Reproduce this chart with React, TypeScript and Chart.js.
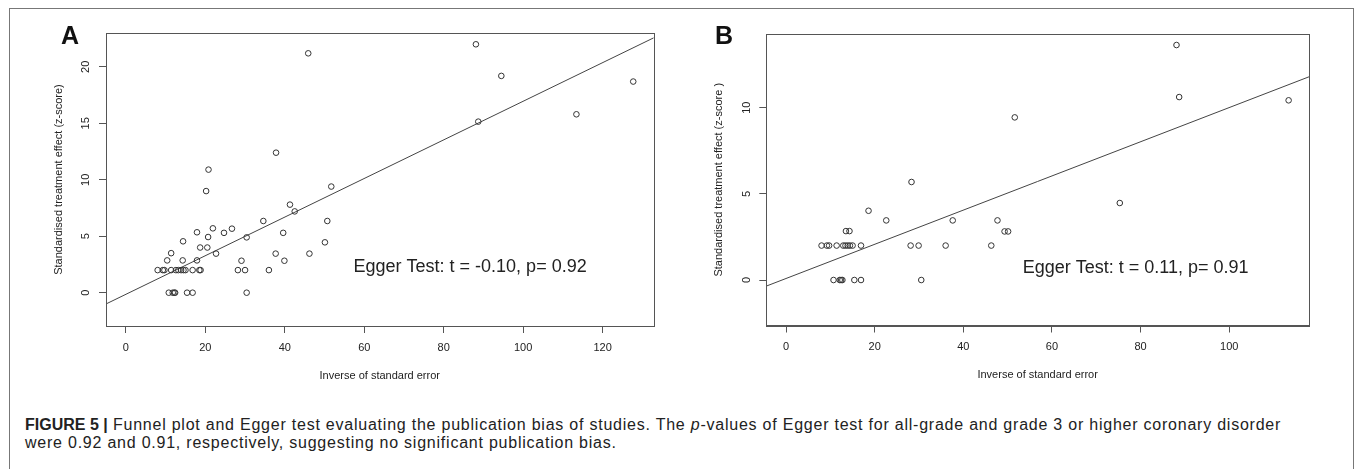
import React, { useEffect, useRef } from "react";
import { Chart, registerables } from "chart.js";

Chart.register(...registerables);

const FONT = '"Liberation Sans", Arial, Helvetica, sans-serif';
const AXIS = "#555555";
const TXT = "#222222";

// ---- Panel A data ----
const xTicksA = [0, 20, 40, 60, 80, 100, 120];
const yTicksA = [0, 5, 10, 15, 20];
const invSeA = [
  88.1, 45.9, 94.5, 127.7, 113.4, 88.7, 37.8, 20.8, 20.2, 51.7, 41.3, 42.5, 34.6, 50.7,
  21.9, 26.7, 24.7, 17.9, 39.6, 20.7, 30.4, 14.4, 50.1, 18.7, 20.5, 11.4, 22.7, 37.7,
  46.2, 10.4, 14.3, 17.9, 29.1, 39.9, 8.0, 9.3, 9.7, 11.4, 12.6, 13.2, 13.9, 14.5, 15.0,
  16.8, 18.5, 18.8, 28.2, 30.0, 36.0, 10.8, 11.8, 12.2, 12.4, 15.4, 16.8, 30.4,
];
const zScoreA = [
  22.0, 21.2, 19.2, 18.7, 15.8, 15.15, 12.4, 10.9, 9.0, 9.4, 7.8, 7.2, 6.35, 6.35,
  5.7, 5.67, 5.3, 5.35, 5.3, 4.93, 4.9, 4.55, 4.46, 4.0, 4.0, 3.5, 3.46, 3.46,
  3.46, 2.86, 2.86, 2.86, 2.83, 2.83, 2, 2, 2, 2, 2, 2, 2, 2, 2,
  2, 2, 2, 2, 2, 2, 0, 0, 0, 0, 0, 0, 0,
];
const interceptA = -0.145;
const slopeA = 0.171;
const eggerTextA = "Egger Test: t = -0.10, p= 0.92";
const eggerPosA = [57.3, 2.27];

// ---- Panel B data ----
const xTicksB = [0, 20, 40, 60, 80, 100];
const yTicksB = [0, 5, 10];
const invSeB = [
  88.1, 88.7, 113.4, 51.6, 28.3, 75.3, 18.6, 22.6, 37.6, 47.7, 13.5, 14.3, 49.3, 50.1,
  8.0, 9.2, 9.7, 11.4, 12.9, 13.4, 13.9, 14.4, 15.0, 16.9, 28.1, 29.9, 36.0, 46.3,
  10.7, 12.1, 12.4, 12.7, 15.4, 16.9, 30.5,
];
const zScoreB = [
  13.64, 10.62, 10.43, 9.44, 5.69, 4.47, 4.02, 3.46, 3.46, 3.46, 2.84, 2.84, 2.82, 2.82,
  2, 2, 2, 2, 2, 2, 2, 2, 2, 2, 2, 2, 2, 2,
  0, 0, 0, 0, 0, 0, 0,
];
const interceptB = 0.09;
const slopeB = 0.0992;
const eggerTextB = "Egger Test: t = 0.11, p= 0.91";
const eggerPosB = [53.4, 0.7];

type PanelProps = {
  left: number;
  width: number;
  height: number;
  xs: number[];
  ys: number[];
  xMin: number;
  xMax: number;
  yMin: number;
  yMax: number;
  xTicks: number[];
  yTicks: number[];
  intercept: number;
  slope: number;
  text: string;
  textPos: number[];
  yTitle: string;
  padTop: number;
  padRight: number;
  yAxisW: number;
  xAxisH: number;
  yTickPad: number;
  xTickPad: number;
  yTitlePad: number;
  xTitlePad: number;
};

function Panel(p: PanelProps) {
  const ref = useRef<HTMLCanvasElement | null>(null);
  useEffect(() => {
    if (!ref.current) return;
    const points = p.xs.map((x, i) => ({ x, y: p.ys[i] }));
    const lineX = [p.xMin - 10, p.xMax + 10];
    const line = lineX.map((x) => ({ x, y: p.intercept + p.slope * x }));
    const textPlugin = {
      id: "eggerText",
      afterDatasetsDraw(chart: any) {
        const { ctx, chartArea, scales } = chart;
        ctx.save();
        ctx.strokeStyle = AXIS;
        ctx.lineWidth = 1;
        ctx.strokeRect(
          Math.round(chartArea.left) + 0.5,
          Math.round(chartArea.top) + 0.5,
          Math.round(chartArea.right - chartArea.left),
          Math.round(chartArea.bottom - chartArea.top)
        );
        ctx.font = `18px ${FONT}`;
        ctx.fillStyle = TXT;
        ctx.textAlign = "left";
        ctx.textBaseline = "middle";
        ctx.fillText(
          p.text,
          scales.x.getPixelForValue(p.textPos[0]),
          scales.y.getPixelForValue(p.textPos[1])
        );
        ctx.restore();
      },
    };
    const gridOpts = {
      display: true,
      drawOnChartArea: false,
      drawTicks: true,
      tickLength: 7,
      color: AXIS,
      lineWidth: 1,
    };
    const chart = new Chart(ref.current, {
      type: "scatter",
      data: {
        datasets: [
          {
            type: "scatter",
            data: points,
            pointStyle: "circle",
            pointRadius: 2.8,
            backgroundColor: "rgba(0,0,0,0)",
            borderColor: "#333333",
            borderWidth: 1,
          },
          {
            type: "line",
            data: line,
            pointRadius: 0,
            borderColor: "#444444",
            borderWidth: 1,
            fill: false,
          },
        ],
      } as any,
      options: {
        responsive: false,
        animation: false,
        devicePixelRatio: 1,
        layout: { padding: { left: 0, top: p.padTop, right: p.padRight, bottom: 0 } },
        plugins: {
          legend: { display: false },
          tooltip: { enabled: false },
          title: { display: false },
        },
        scales: {
          x: {
            type: "linear",
            position: "bottom",
            min: p.xMin,
            max: p.xMax,
            afterBuildTicks: (s: any) => {
              s.ticks = p.xTicks.map((v) => ({ value: v }));
            },
            afterFit: (s: any) => {
              s.height = p.xAxisH;
            },
            grid: gridOpts,
            border: { display: true, color: AXIS, width: 1 },
            ticks: {
              padding: p.xTickPad,
              color: TXT,
              font: { family: FONT, size: 11 },
              maxRotation: 0,
              minRotation: 0,
              autoSkip: false,
              callback: (v: any) => String(v),
            },
            title: {
              display: true,
              text: "Inverse of standard error",
              color: TXT,
              font: { family: FONT, size: 11 },
              padding: { top: 0, bottom: p.xTitlePad },
            },
          },
          y: {
            type: "linear",
            position: "left",
            min: p.yMin,
            max: p.yMax,
            afterBuildTicks: (s: any) => {
              s.ticks = p.yTicks.map((v) => ({ value: v }));
            },
            afterFit: (s: any) => {
              s.width = p.yAxisW;
            },
            grid: gridOpts,
            border: { display: true, color: AXIS, width: 1 },
            ticks: {
              padding: p.yTickPad,
              color: TXT,
              font: { family: FONT, size: 11 },
              minRotation: 90,
              maxRotation: 90,
              crossAlign: "center",
              autoSkip: false,
              callback: (v: any) => String(v),
            },
            title: {
              display: true,
              text: p.yTitle,
              color: TXT,
              font: { family: FONT, size: 11 },
              padding: { top: p.yTitlePad, bottom: 0 },
            },
          },
        },
      } as any,
      plugins: [textPlugin],
    });
    return () => chart.destroy();
  }, []);
  return (
    <canvas
      ref={ref}
      width={p.width}
      height={p.height}
      style={{ position: "absolute", left: p.left, top: 0, width: p.width, height: p.height }}
    />
  );
}

const panelLabelStyle: React.CSSProperties = {
  position: "absolute",
  top: 35,
  transform: "translate(-50%, -50%)",
  fontSize: 25,
  fontWeight: "bold",
  color: "#111111",
  lineHeight: "25px",
};

export default function App() {
  return (
    <div
      style={{
        position: "absolute",
        left: 0,
        top: 0,
        width: 1355,
        height: 469,
        overflow: "hidden",
        background: "#ffffff",
        fontFamily: FONT,
      }}
    >
      <div
        style={{
          position: "absolute",
          left: 9,
          top: 8,
          width: 1343,
          height: 500,
          border: "1px solid #777777",
        }}
      />
      <Panel
        left={0}
        width={680}
        height={400}
        xs={invSeA}
        ys={zScoreA}
        xMin={-5.0}
        xMax={132.8}
        yMin={-2.95}
        yMax={23.0}
        xTicks={xTicksA}
        yTicks={yTicksA}
        intercept={interceptA}
        slope={slopeA}
        text={eggerTextA}
        textPos={eggerPosA}
        yTitle="Standardised treatment effect (z-score)"
        padTop={33}
        padRight={26.5}
        yAxisW={106}
        xAxisH={74}
        yTickPad={7}
        xTickPad={8}
        yTitlePad={52}
        xTitlePad={17.4}
      />
      <Panel
        left={680}
        width={675}
        height={400}
        xs={invSeB}
        ys={zScoreB}
        xMin={-4.47}
        xMax={118.0}
        yMin={-2.64}
        yMax={14.28}
        xTicks={xTicksB}
        yTicks={yTicksB}
        intercept={interceptB}
        slope={slopeB}
        text={eggerTextB}
        textPos={eggerPosB}
        yTitle="Standardised treatment effect (z-score )"
        padTop={34}
        padRight={46}
        yAxisW={86.3}
        xAxisH={74.5}
        yTickPad={6.5}
        xTickPad={8}
        yTitlePad={32}
        xTitlePad={18.4}
      />
      <div style={{ ...panelLabelStyle, left: 70 }}>A</div>
      <div style={{ ...panelLabelStyle, left: 724 }}>B</div>
      <div
        style={{
          position: "absolute",
          left: 25,
          top: 416,
          fontSize: 16,
          lineHeight: "18px",
          color: TXT,
          whiteSpace: "nowrap",
        }}
      >
        <b>FIGURE 5 |</b>
        <span style={{ letterSpacing: "0.77px" }}>
          {" "}Funnel plot and Egger test evaluating the publication bias of studies. The{" "}
          <i>p</i>-values of Egger test for all-grade and grade 3 or higher coronary disorder
          <br />
          were 0.92 and 0.91, respectively, suggesting no significant publication bias.
        </span>
      </div>
    </div>
  );
}
